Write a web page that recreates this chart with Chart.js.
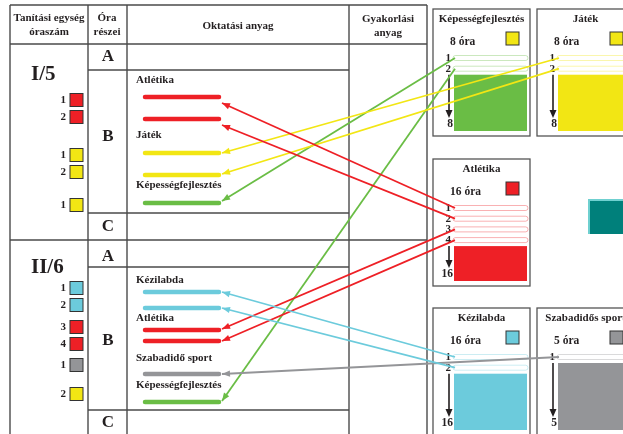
<!DOCTYPE html>
<html>
<head>
<meta charset="utf-8">
<script src="https://cdn.jsdelivr.net/npm/chart.js@4.4.1/dist/chart.umd.min.js"></script>
<style>
  html, body { margin: 0; padding: 0; background: #fff; }
  #wrap { width: 623px; height: 434px; }
</style>
</head>
<body>
<div id="wrap"><canvas id="plan" width="623" height="434"></canvas></div>
<script>
// data
const units = ['I/5', 'II/6'];
const lessonParts = ['A', 'B', 'C'];
const topics = ['Képességfejlesztés', 'Játék', 'Atlétika', 'Kézilabda', 'Szabadidős sport'];
const topicHours = [8, 8, 16, 16, 5];
const unit1Labels = ['Atlétika', 'Játék', 'Képességfejlesztés'];
const unit1Topics = [2, 2, 1, 1, 0];
const unit1Hours = [1, 2, 1, 2, 1];
const unit2Labels = ['Kézilabda', 'Atlétika', 'Szabadidő sport', 'Képességfejlesztés'];
const unit2Topics = [3, 3, 2, 2, 4, 0];
const unit2Hours = [1, 2, 3, 4, 1, 2];

// styles
const topicColors = ['#6abd45', '#f2e614', '#ee2026', '#6ccbdc', '#949598'];
const squareColors = ['#f2e614', '#f2e614', '#ee2026', '#6ccbdc', '#949598'];
const lineColor = '#4a4a4a';
const FONT = '"Liberation Serif", "DejaVu Serif", serif';

// layout
const unitLayout = [
  { top: 44, bottom: 240, partLines: [70, 213], partY: [57, 137, 227], nameY: 75,
    labelY: [80, 135, 185], lineY: [97, 119, 153, 175, 203],
    tipY: [103, 125, 153, 174, 201], squareY: [100, 117, 155, 172, 205] },
  { top: 240, bottom: 434, partLines: [267, 410], partY: [257, 341, 423], nameY: 268,
    labelY: [280, 318, 358, 385], lineY: [292, 308, 330, 341, 374, 402],
    tipY: [292, 308, 329, 341, 374, 401], squareY: [288, 305, 327, 344, 365, 394] }
];
const boxLayout = [{ x: 433, y: 9 }, { x: 537, y: 9 }, { x: 433, y: 159 }, { x: 433, y: 308 }, { x: 537, y: 308 }];
const BOX_W = 97, BOX_H = 127, ROW_GAP = 10.7;

const unitTopics = [unit1Topics, unit2Topics];
const unitHours = [unit1Hours, unit2Hours];
const unitLabels = [unit1Labels, unit2Labels];

// how many hour rows are shown in each topic box
const shownRows = topics.map((t, ti) => {
  let m = 0;
  unitTopics.forEach((tp, u) => tp.forEach((v, i) => { if (v === ti) m = Math.max(m, unitHours[u][i]); }));
  return m;
});
const rowY = (ti, h) => boxLayout[ti].y + 49 + (h - 1) * ROW_GAP;

const datasets = [];
unitTopics.forEach((tp, u) => {
  const L = unitLayout[u];
  tp.forEach((ti, i) => {
    datasets.push({
      data: [{ x: 145, y: L.lineY[i] }, { x: 219, y: L.lineY[i] }],
      borderColor: topicColors[ti], borderWidth: 4.5, borderCapStyle: 'round',
      showLine: true, pointRadius: 0
    });
  });
});
unitTopics.forEach((tp, u) => {
  const L = unitLayout[u];
  tp.forEach((ti, i) => {
    const b = boxLayout[ti];
    datasets.push({
      data: [{ x: b.x + 22, y: rowY(ti, unitHours[u][i]) }, { x: 222, y: L.tipY[i] }],
      borderColor: topicColors[ti], borderWidth: 1.8,
      showLine: true, pointRadius: 0, arrow: true
    });
  });
});

function arrowHead(ctx, x0, y0, x1, y1, len, half, color) {
  const a = Math.atan2(y1 - y0, x1 - x0);
  ctx.save();
  ctx.fillStyle = color;
  ctx.beginPath();
  ctx.moveTo(x1, y1);
  ctx.lineTo(x1 - len * Math.cos(a) + half * Math.sin(a), y1 - len * Math.sin(a) - half * Math.cos(a));
  ctx.lineTo(x1 - len * Math.cos(a) - half * Math.sin(a), y1 - len * Math.sin(a) + half * Math.cos(a));
  ctx.closePath();
  ctx.fill();
  ctx.restore();
}

const planPlugin = {
  id: 'plan',
  beforeDatasetsDraw(chart) {
    const ctx = chart.ctx;
    const X = v => chart.scales.x.getPixelForValue(v);
    const Y = v => chart.scales.y.getPixelForValue(v);
    const hline = (x0, x1, y) => { ctx.beginPath(); ctx.moveTo(X(x0), Y(y)); ctx.lineTo(X(x1), Y(y)); ctx.stroke(); };
    const vline = (x, y0, y1) => { ctx.beginPath(); ctx.moveTo(X(x), Y(y0)); ctx.lineTo(X(x), Y(y1)); ctx.stroke(); };
    const text = (s, x, y, size, align) => {
      ctx.font = 'bold ' + size + 'px ' + FONT;
      ctx.textAlign = align || 'center';
      ctx.textBaseline = 'middle';
      ctx.fillText(s, X(x), Y(y));
    };
    ctx.save();
    ctx.fillStyle = '#231f20';

    // table grid
    ctx.strokeStyle = lineColor;
    ctx.lineWidth = 1.4;
    hline(10, 427, 5);
    hline(10, 427, 44);
    [10, 88, 127, 349, 427].forEach(x => vline(x, 5, 434));
    unitLayout.forEach((L, u) => {
      if (u > 0) hline(10, 427, L.top);
      L.partLines.forEach(y => hline(88, 349, y));
    });

    // header
    text('Tanítási egység', 49, 18, 11);
    text('óraszám', 49, 32, 11);
    text('Óra', 107, 18, 11);
    text('részei', 107, 32, 11);
    text('Oktatási anyag', 238, 26, 11);
    text('Gyakorlási', 388, 19, 11);
    text('anyag', 388, 33, 11);

    // units
    units.forEach((name, u) => {
      const L = unitLayout[u];
      text(name, 31, L.nameY, 21, 'left');
      lessonParts.forEach((p, k) => text(p, 108, L.partY[k], 17));
      unitLabels[u].forEach((s, k) => text(s, 136, L.labelY[k], 11, 'left'));
      unitTopics[u].forEach((ti, i) => {
        const y = L.squareY[i];
        text(String(unitHours[u][i]), 66, y, 11, 'right');
        ctx.fillStyle = squareColors[ti];
        ctx.fillRect(X(70), Y(y - 6.5), 13, 13);
        ctx.strokeStyle = '#333';
        ctx.lineWidth = 1;
        ctx.strokeRect(X(70), Y(y - 6.5), 13, 13);
        ctx.fillStyle = '#231f20';
      });
    });

    // topic boxes
    topics.forEach((name, ti) => {
      const b = boxLayout[ti];
      ctx.strokeStyle = '#555';
      ctx.lineWidth = 1.3;
      ctx.strokeRect(X(b.x), Y(b.y), BOX_W, BOX_H);
      ctx.fillStyle = '#231f20';
      text(name, b.x + 48.5, b.y + 10, 11);
      text(topicHours[ti] + ' óra', b.x + 17, b.y + 33, 11.5, 'left');
      ctx.fillStyle = squareColors[ti];
      ctx.fillRect(X(b.x + 73), Y(b.y + 23), 13, 13);
      ctx.strokeStyle = '#333';
      ctx.lineWidth = 1;
      ctx.strokeRect(X(b.x + 73), Y(b.y + 23), 13, 13);

      const n = shownRows[ti];
      ctx.fillStyle = '#231f20';
      for (let h = 1; h <= n; h++) {
        const y = rowY(ti, h);
        ctx.save();
        ctx.globalAlpha = 0.35;
        ctx.strokeStyle = topicColors[ti];
        ctx.lineWidth = 1;
        ctx.beginPath();
        ctx.roundRect(X(b.x + 20), Y(y - 2.5), 75, 5, 2.5);
        ctx.stroke();
        ctx.restore();
        text(String(h), b.x + 18, y, 11, 'right');
      }
      const fillTop = rowY(ti, n) + 6;
      const fillBot = b.y + BOX_H - 5;
      ctx.fillStyle = topicColors[ti];
      ctx.fillRect(X(b.x + 21), Y(fillTop), 73, fillBot - fillTop);

      ctx.fillStyle = '#231f20';
      ctx.strokeStyle = '#231f20';
      ctx.lineWidth = 1.6;
      const labY = fillBot - 7;
      vline(b.x + 16, fillTop, labY - 13);
      arrowHead(ctx, X(b.x + 16), Y(fillTop), X(b.x + 16), Y(labY - 6), 8, 3.5, '#231f20');
      text(String(topicHours[ti]), b.x + 20, labY, 11.5, 'right');
    });

    // teal button
    ctx.fillStyle = '#00807b';
    ctx.fillRect(X(588), Y(199), 40, 35);
    ctx.fillStyle = '#6fd0d0';
    ctx.fillRect(X(588), Y(199), 40, 2);
    ctx.fillRect(X(588), Y(199), 2, 35);
    ctx.restore();
  },
  afterDatasetsDraw(chart) {
    const ctx = chart.ctx;
    chart.data.datasets.forEach((ds, i) => {
      if (!ds.arrow) return;
      const pts = chart.getDatasetMeta(i).data;
      arrowHead(ctx, pts[0].x, pts[0].y, pts[1].x, pts[1].y, 8, 3.2, ds.borderColor);
    });
  }
};

new Chart(document.getElementById('plan'), {
  type: 'scatter',
  data: { datasets: datasets },
  options: {
    responsive: false,
    animation: false,
    layout: { padding: 0 },
    plugins: { legend: { display: false }, tooltip: { enabled: false } },
    scales: {
      x: { type: 'linear', min: 0, max: 623, display: false },
      y: { type: 'linear', min: 0, max: 434, reverse: true, display: false }
    }
  },
  plugins: [planPlugin]
});
</script>
</body>
</html>
